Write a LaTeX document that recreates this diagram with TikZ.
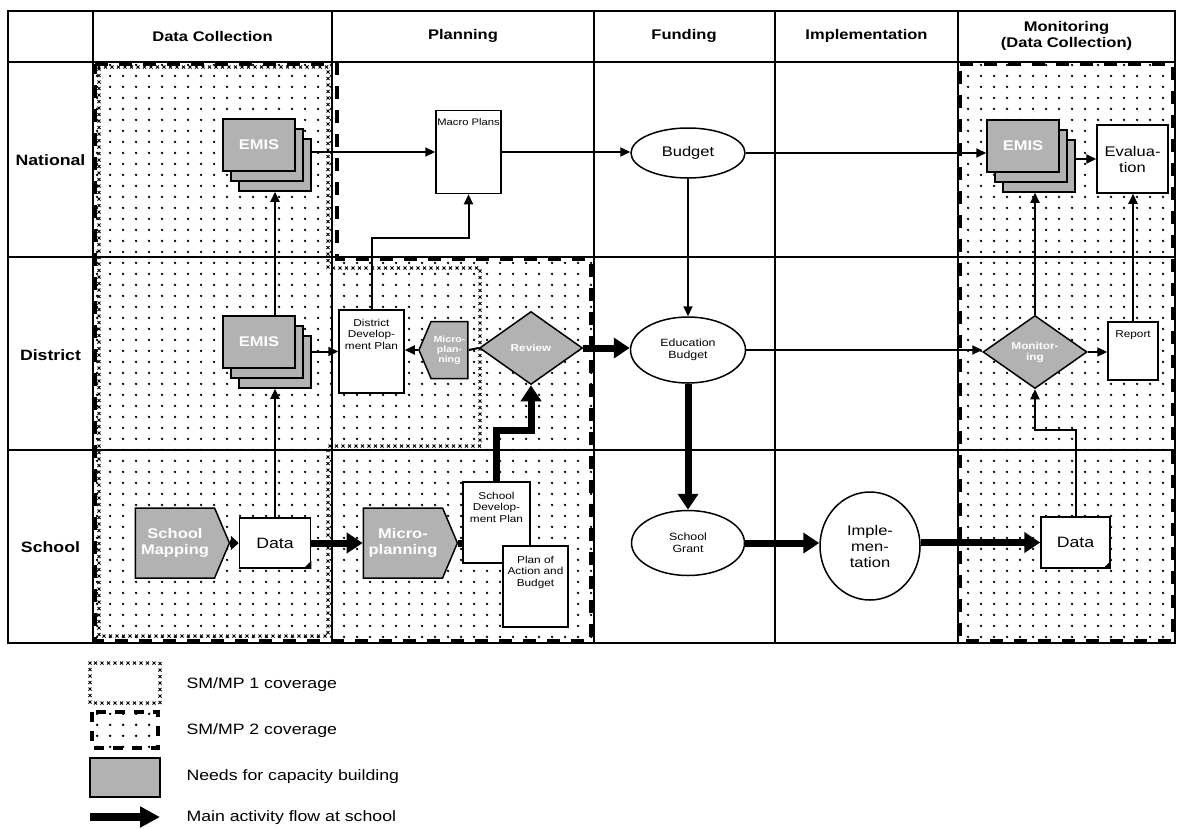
\documentclass[tikz,border=0pt]{standalone}
\usepackage{fontspec}
\setmainfont{Liberation Sans}[FakeStretch=1.18]
\usetikzlibrary{shapes.geometric,shapes.symbols,arrows.meta,patterns,decorations.shapes,calc}
\pgfdeclarepatternformonly{sparsedots}{\pgfpointorigin}{\pgfpoint{13pt}{11pt}}{\pgfpoint{13pt}{11pt}}{\pgfpathcircle{\pgfpoint{6.5pt}{5.5pt}}{1.45pt}\pgfusepath{fill}}
\newcommand{\fs}[2]{\fontsize{#1pt}{#2pt}\selectfont}
\newcommand{\topbox}[4]{\parbox[c][#2][t]{#1}{\centering\vspace*{#3}#4}}
\begin{document}
\begin{tikzpicture}[x=1pt,y=-1pt,
  tline/.style={line width=1.6pt},
  dotfill/.style={pattern=sparsedots, pattern color=black},
  cov1/.style={decorate, decoration={crosses, segment length=6.5pt, shape size=3pt}, line width=0.9pt},
  cov2/.style={line width=4pt, dash pattern=on 13pt off 11pt},
  wbox/.style={draw, line width=1.5pt, fill=white, inner sep=0pt, align=center},
  gshape/.style={draw, line width=1.5pt, fill=gray!60, text=white, inner sep=0pt, align=center},
  sheet/.style={gshape, minimum width=72pt, minimum height=52pt, font=\bfseries\fs{14}{16}},
  arrthin/.style={line width=2pt, -{Triangle[length=10pt,width=9pt]}},
  arrmain/.style={line width=7pt, -{Triangle[length=16pt,width=20pt]}},
  hdr/.style={font=\bfseries\fs{14}{16}, align=center},
  rowl/.style={font=\bfseries\fs{15}{17}},
  legt/.style={font=\fs{15}{17}, anchor=west},
  ell/.style={ellipse, draw, line width=1.5pt, fill=white, inner sep=0pt, align=center},
]
\fill[white] (0,0) rectangle (1182,828);
\useasboundingbox (0,0) rectangle (1182,828);

% dotted coverage areas
\fill[dotfill] (93,62) rectangle (332,643);
\fill[dotfill] (332,257) rectangle (594,643);
\fill[dotfill] (958,62) rectangle (1175,643);

% table
\draw[tline] (8,62) -- (1175,62);
\draw[tline] (8,257) -- (1175,257);
\draw[tline] (8,450) -- (1175,450);
\draw[tline] (93,11) -- (93,643);
\draw[tline] (332,11) -- (332,643);
\draw[tline] (594,11) -- (594,643);
\draw[tline] (775,11) -- (775,643);
\draw[tline] (958,11) -- (958,643);
\draw[line width=2.2pt] (8,11) rectangle (1175,643);

% coverage borders
\draw[cov1] (99,67) -- (328,67) -- (328,268) -- (480,268) -- (480,446) -- (328,446) -- (328,636) -- (99,636) -- cycle;
\draw[cov2] (95,64) -- (337,64) -- (337,259) -- (591,259) -- (591,641) -- (95,641) -- cycle;
\draw[cov2] (960,64) -- (1173,64) -- (1173,641) -- (960,641) -- cycle;

% headers
\node[hdr] (hDC) at (212.5,36) {Data Collection};
\node[hdr] (hPL) at (463,36) {Planning};
\node[hdr] (hFU) at (684,36) {Funding};
\node[hdr] (hIM) at (866.5,36) {Implementation};
\node[hdr] (hMO) at (1066.5,36) {Monitoring\\(Data Collection)};

% row labels
\node[rowl] (rN) at (50.5,160) {National};
\node[rowl] (rD) at (50.5,355) {District};
\node[rowl] (rS) at (50.5,547) {School};

% EMIS stacks
\node[sheet] (nE3) at (275,165) {};
\node[sheet] (nE2) at (267,155) {};
\node[sheet] (nE) at (259,145) {EMIS};
\node[sheet] (dE3) at (275,362) {};
\node[sheet] (dE2) at (267,352) {};
\node[sheet] (dE) at (259,342) {EMIS};
\node[sheet] (mE3) at (1039,166) {};
\node[sheet] (mE2) at (1031,156) {};
\node[sheet] (mE) at (1023,146) {EMIS};

% white boxes
\node[wbox, font=\fs{9.5}{11}] (macro) at (468.5,152) {\topbox{65pt}{83pt}{8pt}{Macro Plans}};
\node[wbox, font=\fs{10}{11.5}] (ddp) at (371.5,351.5) {\topbox{65pt}{83pt}{9pt}{District\\Develop-\\ment Plan}};
\node[wbox, font=\fs{10}{11.5}] (report) at (1133,351) {\topbox{50pt}{58pt}{9pt}{Report}};
\node[wbox, font=\fs{14}{16}, minimum width=71pt, minimum height=68pt] (eval) at (1132.5,159) {Evalua-\\tion};
\node[wbox, font=\fs{15}{17}, minimum width=71pt, minimum height=50pt] (dS) at (275,543) {Data};
\node[wbox, font=\fs{15}{17}, minimum width=69pt, minimum height=51pt] (dM) at (1075.5,542.5) {Data};
\fill ([xshift=-8pt]dS.south east) -- (dS.south east) -- ([yshift=8pt]dS.south east) -- cycle;
\fill ([xshift=-8pt]dM.south east) -- (dM.south east) -- ([yshift=8pt]dM.south east) -- cycle;
\node[wbox, font=\fs{10}{11.5}] (sdp) at (496.5,522.5) {\topbox{67pt}{81pt}{10pt}{School\\Develop-\\ment Plan}};
\node[wbox, font=\fs{10}{11.5}] (poab) at (535.5,586.5) {\topbox{65pt}{81pt}{10pt}{Plan of\\Action and\\Budget}};

% gray shapes
\node[gshape, signal, signal to=east, signal pointer angle=134, minimum width=94pt, minimum height=70pt, font=\bfseries\fs{14}{16}] (smap) at (175,543) {School\\Mapping};
\node[gshape, signal, signal to=east, signal pointer angle=134, minimum width=94pt, minimum height=70pt, font=\bfseries\fs{14}{16}] (mps) at (403,543) {Micro-\\planning};
\node[gshape, signal, signal to=west, signal pointer angle=134, minimum width=49pt, minimum height=57pt, font=\bfseries\fs{9}{10}] (mpd) at (449.5,350) {Micro-\\plan-\\ning};
\node[gshape, diamond, minimum width=103pt, minimum height=73pt, font=\bfseries\fs{10}{11}] (review) at (531,348) {Review};
\node[gshape, diamond, minimum width=104pt, minimum height=73pt, font=\bfseries\fs{10}{11}] (md) at (1035,352) {Monitor-\\ing};

% ellipses
\node[ell, minimum width=114pt, minimum height=50pt, font=\fs{14}{16}] (budget) at (688,153) {Budget};
\node[ell, minimum width=115pt, minimum height=66pt, font=\fs{10.5}{12}] (edb) at (688,350) {Education\\Budget};
\node[ell, minimum width=113pt, minimum height=65pt, font=\fs{10.5}{12}] (sg) at (688,543) {School\\Grant};
\node[ell, minimum width=100pt, minimum height=108pt, font=\fs{14}{16}] (impl) at (870,546) {Imple-\\men-\\tation};

% thin connectors
\draw[arrthin] (dS.north) -- (dE3.south);
\draw[arrthin] (dE3.north |- dE.north) -- (nE3.south);
\draw[arrthin] (nE3.east |- macro.west) -- (macro.west);
\draw[arrthin] (macro.east) -- (macro.east -| budget.west);
\draw[arrthin] (budget.east) -- (budget.east -| mE.west);
\draw[arrthin] (mE3.east |- eval.west) -- (eval.west);
\draw[arrthin] (ddp.north) -- (ddp.north |- 0,238) -| (macro.south);
\draw[arrthin] (dE3.east |- ddp.west) -- (ddp.west);
\draw[arrthin] (mpd.west) -- (mpd.west -| ddp.east);
\draw[line width=2pt] (review.west) -- (mpd.east);
\draw[arrthin] (budget.south) -- (edb.north);
\draw[arrthin] (edb.east) -- (edb.east -| md.west);
\draw[arrthin] (md.east) -- (md.east -| report.west);
\draw[arrthin] (md.north) -- (md.north |- mE3.south);
\draw[arrthin] (report.north) -- (report.north |- eval.south);
\draw[arrthin] (dM.north) -- (dM.north |- 0,430) -| (md.south);

% main flow
\draw[arrmain] (review.east) -- (review.east -| edb.west);
\draw[arrmain] (sdp.north) -- (sdp.north |- 0,430) -| (review.south);
\draw[line width=7pt, -{Triangle[length=8pt,width=14pt]}] (smap.east) -- (dS.west);
\draw[arrmain] (dS.east) -- (mps.west);
\draw[line width=7pt] (mps.east) -- (mps.east -| sdp.west);
\draw[arrmain] (edb.south) -- (sg.north);
\draw[arrmain] (sg.east) -- (sg.east -| impl.west);
\draw[arrmain] (impl.east |- dM.west) -- (dM.west);

% legend
\draw[cov1] (90,663) rectangle (160,703);
\fill[dotfill] (90,710) rectangle (160,750);
\draw[line width=4pt, dash pattern=on 10pt off 9pt] (92,712) rectangle (158,748);
\draw[line width=1.5pt, fill=gray!60] (90,758) rectangle (160,797);
\coordinate (lgA) at (90,817);
\coordinate (lgB) at (160,817);
\draw[line width=8pt, -{Triangle[length=20pt,width=20pt]}] (lgA) -- (lgB);
\node[legt] (l1) at (183,685) {SM/MP 1 coverage};
\node[legt] (l2) at (183,731) {SM/MP 2 coverage};
\node[legt] (l3) at (183,777) {Needs for capacity building};
\node[legt] (l4) at (183,818) {Main activity flow at school};
\end{tikzpicture}
\end{document}
